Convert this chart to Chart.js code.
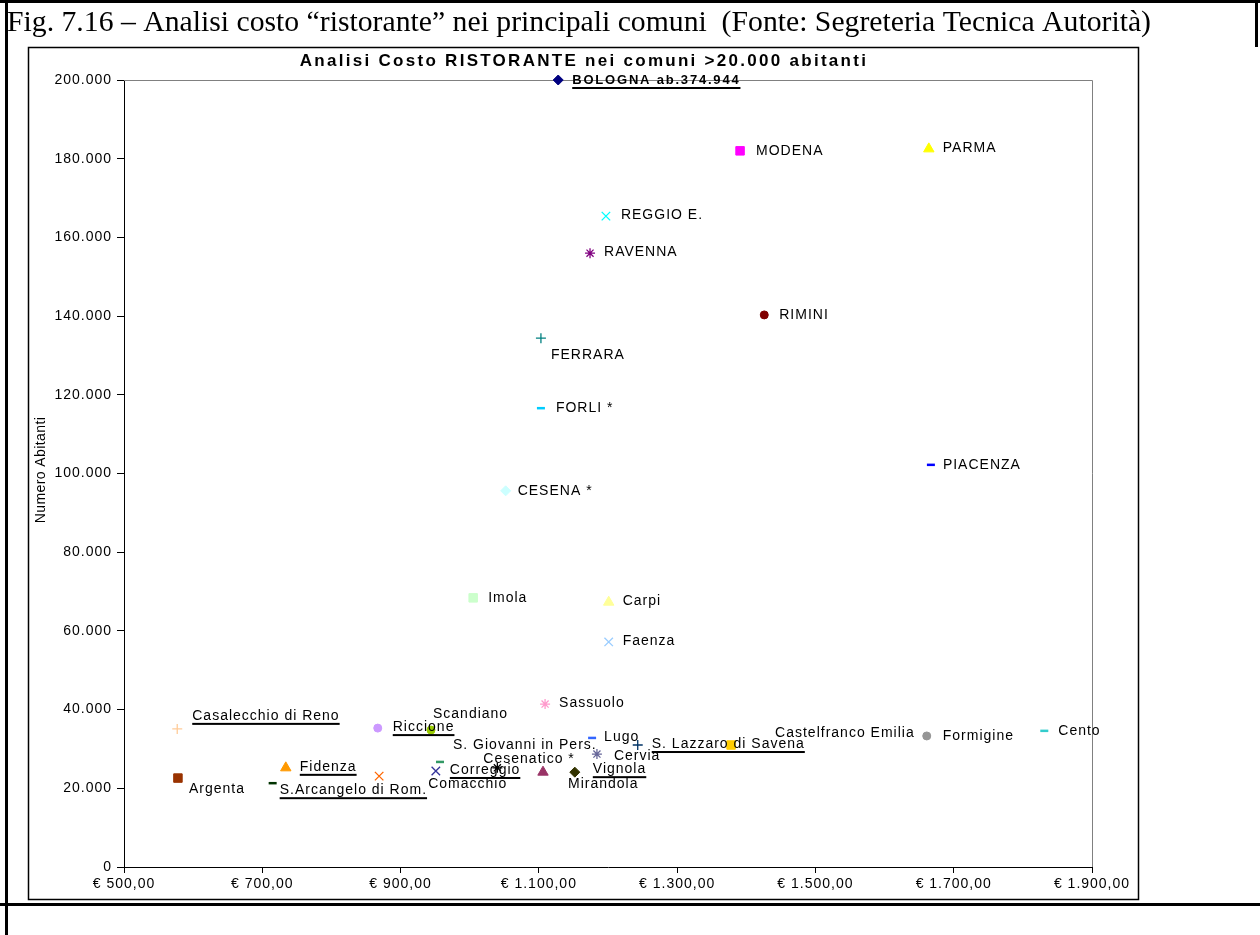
<!DOCTYPE html>
<html>
<head>
<meta charset="utf-8">
<title>Analisi Costo RISTORANTE</title>
<script src="https://cdn.jsdelivr.net/npm/chart.js@4.4.1/dist/chart.umd.min.js"></script>
<style>
  html, body { margin: 0; padding: 0; background: #fff; }
  #wrap { position: relative; width: 1260px; height: 935px; }
</style>
</head>
<body>
<div id="wrap"><canvas id="grafico" width="1260" height="935"></canvas></div>
<script>
// Comuni >20.000 abitanti: costo ristorante (€) e numero abitanti
var comuni = [
  'BOLOGNA ab.374.944', 'MODENA', 'PARMA', 'REGGIO E.', 'RAVENNA', 'RIMINI', 'FERRARA', 'PIACENZA',
  'FORLI *', 'CESENA *', 'Imola', 'Carpi', 'Faenza', 'Sassuolo', 'Riccione', 'Casalecchio di Reno',
  'Lugo', 'Cento', 'Scandiano', 'Castelfranco Emilia', 'Fidenza', 'Comacchio', 'Cervia', 'Formigine',
  'S. Lazzaro di Savena', 'S. Giovanni in Pers.', 'S.Arcangelo di Rom.', 'Vignola', 'Argenta', 'Mirandola', 'Correggio', 'Cesenatico *'
];
var costo = [
  1128, 1391, 1664, 1197, 1174, 1426, 1103, 1667,
  1103, 1052, 1005, 1201, 1201, 1109, 867, 577,
  1177, 1831, 944, 1378, 734, 869, 1184, 1661,
  1243, 957, 715, 1152, 578, 1106, 951, 1040
];
var abitanti = [
  200000, 182000, 182500, 165400, 156000, 140300, 134400, 102200,
  116600, 95600, 68400, 67300, 57200, 41400, 35300, 35100,
  32800, 34600, 34800, 31000, 25200, 23100, 28700, 33300,
  31000, 26700, 21300, 24100, 22600, 24100, 24400, 25200
];
var tickCosto = [500, 700, 900, 1100, 1300, 1500, 1700, 1900];

// stile dei marcatori (come Excel)
var colori = [
  '#000080', '#FF00FF', '#FFFF00', '#00FFFF', '#800080', '#800000', '#008080', '#0000FF',
  '#00CCFF', '#CCFFFF', '#CCFFCC', '#FFFF99', '#99CCFF', '#FF99CC', '#CC99FF', '#FFCC99',
  '#3366FF', '#33CCCC', '#99CC00', '#FFCC00', '#FF9900', '#FF6600', '#666699', '#969696',
  '#003366', '#339966', '#003300', '#333300', '#993300', '#993366', '#333399', '#000000'
];
var simboli = [
  'rectRot', 'rect', 'triangle', 'crossRot', 'star', 'circle', 'cross', 'line',
  'line', 'rectRot', 'rect', 'triangle', 'crossRot', 'star', 'circle', 'cross',
  'line', 'line', 'circle', 'rect', 'triangle', 'crossRot', 'star', 'circle',
  'cross', 'line', 'line', 'rectRot', 'rect', 'triangle', 'crossRot', 'star'
];
// spostamento etichetta rispetto al punto [dx, dy] e sottolineatura
var spostamenti = [
  [14, 0], [16, 0], [14, -1], [15, -1], [14, -1], [15, 0], [10, 17], [12, 0],
  [15, 0], [12, 0], [15, 0], [14, -1], [14, -1], [14, -1], [15, -1], [15, -13],
  [12, -1], [14, 0], [2, -16], [44, -12], [14, -1], [49, 8], [17, 2], [16, 0],
  [14, -1], [13, -17], [7, 7], [18, -3], [11, 11], [25, 12], [14, -1], [-14, -9]
];
var sottolineati = [
  true, false, false, false, false, false, false, false,
  false, false, false, false, false, false, true, true,
  false, false, false, false, true, false, false, false,
  true, false, true, true, false, false, true, false
];

function migliaia(v) {
  return String(v).replace(/\B(?=(\d{3})+(?!\d))/g, '.');
}

function raggio(s) {
  if (s == 'rect' || s == 'triangle' || s == 'crossRot') return 6;
  if (s == 'rectRot' || s == 'cross' || s == 'star') return 5;
  return 4;
}
function spessore(s) {
  if (s == 'line') return 2.5;
  if (s == 'cross' || s == 'crossRot' || s == 'star') return 1.3;
  return 1;
}

var FONT = "'Liberation Sans', Arial, sans-serif";

var datasets = comuni.map(function(nome, i) {
  return {
    label: nome,
    data: [{ x: costo[i], y: abitanti[i] }],
    pointStyle: simboli[i],
    pointRadius: raggio(simboli[i]),
    pointBorderWidth: spessore(simboli[i]),
    backgroundColor: colori[i],
    borderColor: colori[i],
    clip: false
  };
});

// cornice, didascalia e titoli
var cornice = {
  id: 'cornice',
  beforeDraw: function(chart) {
    var ctx = chart.ctx;
    ctx.save();
    ctx.letterSpacing = '0px';
    ctx.fillStyle = '#fff';
    ctx.fillRect(0, 0, chart.width, chart.height);
    ctx.fillStyle = '#000';
    ctx.fillRect(0, 0, 1260, 3);
    ctx.fillRect(5, 0, 3, 935);
    ctx.fillRect(1255, 0, 3, 47);
    ctx.fillRect(0, 903, 1260, 3);

    // didascalia in Times, stretta
    var cap = 'Fig. 7.16 \u2013 Analisi costo \u201cristorante\u201d nei principali comuni  (Fonte: Segreteria Tecnica Autorit\u00e0)';
    ctx.font = "30px 'Liberation Serif', 'Times New Roman', serif";
    ctx.textBaseline = 'middle';
    var w = ctx.measureText(cap).width;
    ctx.save();
    ctx.translate(7, 23);
    ctx.scale(1144 / w, 1);
    ctx.fillText(cap, 0, 0);
    ctx.restore();

    // bordo del grafico
    ctx.lineWidth = 1.5;
    ctx.strokeStyle = '#000';
    ctx.strokeRect(28.5, 47.5, 1110, 852);

    // titolo del grafico
    var tit = 'Analisi Costo RISTORANTE nei comuni >20.000 abitanti';
    ctx.font = 'bold 17px ' + FONT;
    ctx.textAlign = 'center';
    var tw = ctx.measureText(tit).width;
    ctx.letterSpacing = Math.max(0, (566 - tw) / (tit.length - 1)).toFixed(2) + 'px';
    ctx.fillText(tit, 584, 61);

    // titolo asse y
    ctx.font = '14px ' + FONT;
    ctx.letterSpacing = '0.4px';
    ctx.translate(41, 470);
    ctx.rotate(-Math.PI / 2);
    ctx.fillText('Numero Abitanti', 0, 0);
    ctx.restore();
    ctx.letterSpacing = '1px';
  },
  beforeDatasetsDraw: function(chart) {
    var a = chart.chartArea, ctx = chart.ctx;
    ctx.save();
    ctx.strokeStyle = '#808080';
    ctx.lineWidth = 1;
    ctx.beginPath();
    ctx.moveTo(a.left, a.top + 0.5);
    ctx.lineTo(a.right + 0.5, a.top + 0.5);
    ctx.lineTo(a.right + 0.5, a.bottom);
    ctx.stroke();
    ctx.restore();
  }
};

// etichette dei comuni accanto ai punti
var etichette = {
  id: 'etichette',
  afterDatasetsDraw: function(chart) {
    var ctx = chart.ctx;
    ctx.save();
    ctx.textBaseline = 'middle';
    ctx.textAlign = 'left';
    ctx.fillStyle = '#000';
    chart.data.datasets.forEach(function(ds, i) {
      var p = chart.getDatasetMeta(i).data[0];
      var tx = p.x + spostamenti[i][0], ty = p.y + spostamenti[i][1];
      if (i === 0) {
        ctx.font = 'bold 13px ' + FONT;
        ctx.letterSpacing = '1.8px';
      } else {
        ctx.font = '14px ' + FONT;
        ctx.letterSpacing = '1px';
      }
      ctx.fillText(ds.label, tx, ty);
      if (sottolineati[i]) {
        var w = ctx.measureText(ds.label).width;
        ctx.fillRect(tx, ty + 7, w, 2);
      }
    });
    ctx.restore();
  }
};

var grafico = new Chart(document.getElementById('grafico'), {
  type: 'scatter',
  data: { datasets: datasets },
  options: {
    responsive: false,
    animation: false,
    layout: { padding: { left: 30, right: 168, top: 80, bottom: 38 } },
    plugins: { legend: { display: false }, tooltip: { enabled: false }, title: { display: false } },
    scales: {
      x: {
        type: 'linear',
        min: 500,
        max: 1900,
        afterFit: function(s) { s.height = 30; },
        afterBuildTicks: function(s) { s.ticks = tickCosto.map(function(v) { return { value: v }; }); },
        ticks: {
          color: '#000',
          font: { family: FONT, size: 14 },
          padding: 3,
          maxRotation: 0,
          callback: function(v) { return '\u20ac ' + migliaia(v) + ',00'; }
        },
        grid: { drawOnChartArea: false, drawTicks: true, tickLength: 6, color: '#000' },
        border: { display: true, color: '#000', width: 1 }
      },
      y: {
        min: 0,
        max: 200000,
        afterFit: function(s) { s.width = 94; },
        ticks: {
          stepSize: 20000,
          color: '#000',
          font: { family: FONT, size: 14 },
          padding: 5,
          callback: function(v) { return migliaia(v); }
        },
        grid: { drawOnChartArea: false, drawTicks: true, tickLength: 7, color: '#000' },
        border: { display: true, color: '#000', width: 1 }
      }
    }
  },
  plugins: [cornice, etichette]
});
</script>
</body>
</html>
